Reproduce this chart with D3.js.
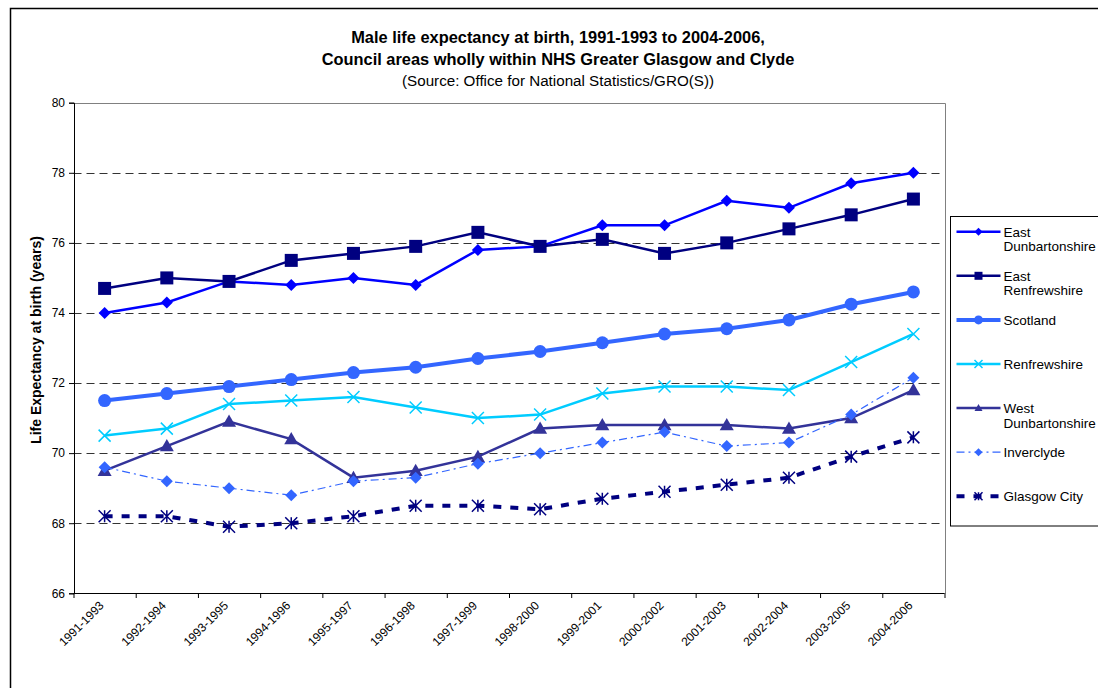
<!DOCTYPE html>
<html>
<head>
<meta charset="utf-8">
<script src="https://cdn.jsdelivr.net/npm/d3@7"></script>
<style>
	body { margin: 0; background: #fff; }
	svg { display: block; font-family: "Liberation Sans", Arial, sans-serif; }
</style>
</head>
<body>
<div id="chart"></div>
<script>
// Three-year periods on the x axis
var periods = ["1991-1993", "1992-1994", "1993-1995", "1994-1996", "1995-1997", "1996-1998", "1997-1999",
	"1998-2000", "1999-2001", "2000-2002", "2001-2003", "2002-2004", "2003-2005", "2004-2006"];

var yTicks = [66, 68, 70, 72, 74, 76, 78, 80];

// Life expectancy values
var eastDunbartonshire = [74.0, 74.3, 74.9, 74.8, 75.0, 74.8, 75.8, 75.9, 76.5, 76.5, 77.2, 77.0, 77.7, 78.0];
var eastRenfrewshire = [74.7, 75.0, 74.9, 75.5, 75.7, 75.9, 76.3, 75.9, 76.1, 75.7, 76.0, 76.4, 76.8, 77.25];
var scotland = [71.5, 71.7, 71.9, 72.1, 72.3, 72.45, 72.7, 72.9, 73.15, 73.4, 73.55, 73.8, 74.25, 74.6];
var renfrewshire = [70.5, 70.7, 71.4, 71.5, 71.6, 71.3, 71.0, 71.1, 71.7, 71.9, 71.9, 71.8, 72.6, 73.4];
var westDunbartonshire = [69.5, 70.2, 70.9, 70.4, 69.3, 69.5, 69.9, 70.7, 70.8, 70.8, 70.8, 70.7, 71.0, 71.8];
var inverclyde = [69.6, 69.2, 69.0, 68.8, 69.2, 69.3, 69.7, 70.0, 70.3, 70.6, 70.2, 70.3, 71.1, 72.15];
var glasgowCity = [68.2, 68.2, 67.9, 68.0, 68.2, 68.5, 68.5, 68.4, 68.7, 68.9, 69.1, 69.3, 69.9, 70.45];

var series = [
	{name: ["East", "Dunbartonshire"], values: eastDunbartonshire, color: "#0000ff", width: 2.5, dash: null, marker: "diamond", size: 6},
	{name: ["East", "Renfrewshire"], values: eastRenfrewshire, color: "#000080", width: 2.5, dash: null, marker: "square", size: 6.5},
	{name: ["Scotland"], values: scotland, color: "#3366ff", width: 4, dash: null, marker: "circle", size: 6.5},
	{name: ["Renfrewshire"], values: renfrewshire, color: "#00ccff", width: 2.5, dash: null, marker: "x", size: 6},
	{name: ["West", "Dunbartonshire"], values: westDunbartonshire, color: "#333399", width: 2.5, dash: null, marker: "triangle", size: 7},
	{name: ["Inverclyde"], values: inverclyde, color: "#3366ff", width: 1.2, dash: "8,4,2,4", marker: "diamond", size: 6},
	{name: ["Glasgow City"], values: glasgowCity, color: "#000080", width: 4, dash: "8,9", marker: "asterisk", size: 6}
];

var width = 1098, height = 688;
var margin = {top: 102.7, left: 73.5, right: 944.5, bottom: 593.3};

var svg = d3.select("#chart").append("svg")
	.attr("width", width)
	.attr("height", height);

// Outer chart frame (runs off the page on the right and bottom)
svg.append("rect")
	.attr("x", 10.5).attr("y", 8.5)
	.attr("width", 1200).attr("height", 800)
	.attr("fill", "none").attr("stroke", "#000").attr("stroke-width", 1.5);

// Titles
var titleX = 558;
svg.append("text").attr("x", titleX).attr("y", 43).attr("text-anchor", "middle")
	.style("font-size", "16.4px").style("font-weight", "bold")
	.text("Male life expectancy at birth, 1991-1993 to 2004-2006,");
svg.append("text").attr("x", titleX).attr("y", 65).attr("text-anchor", "middle")
	.style("font-size", "16.4px").style("font-weight", "bold")
	.text("Council areas wholly within NHS Greater Glasgow and Clyde");
svg.append("text").attr("x", titleX).attr("y", 86).attr("text-anchor", "middle")
	.style("font-size", "15.2px")
	.text("(Source: Office for National Statistics/GRO(S))");

// Scales
var x = d3.scaleBand()
	.domain(periods)
	.range([margin.left, margin.right])
	.padding(0);

// boundary scale for the ticks between categories
var xEdge = d3.scaleLinear()
	.domain([0, periods.length])
	.range([margin.left, margin.right]);

var y = d3.scaleLinear()
	.domain([66, 80])
	.range([margin.bottom, margin.top]);

var cx = function(i) { return x(periods[i]) + x.bandwidth() / 2; };

// Dashed gridlines
svg.append("g").selectAll("line")
	.data(yTicks.filter(function(d) { return d > 66 && d < 80; }))
	.enter().append("line")
	.attr("x1", margin.left).attr("x2", margin.right)
	.attr("y1", function(d) { return Math.round(y(d)) + 0.5; })
	.attr("y2", function(d) { return Math.round(y(d)) + 0.5; })
	.attr("stroke", "#333").attr("stroke-dasharray", "8,5");

// Plot area border (top and right)
svg.append("path")
	.attr("d", "M" + margin.left + "," + (Math.round(margin.top) + 0.5) + "H" + (Math.round(margin.right) + 0.5) + "V" + margin.bottom)
	.attr("fill", "none").attr("stroke", "#808080");

// Y axis
var yAxis = d3.axisLeft(y).tickValues(yTicks).tickSize(5).tickPadding(4);
var yG = svg.append("g")
	.attr("transform", "translate(" + Math.round(margin.left) + ",0)")
	.call(yAxis);
yG.selectAll("text").style("font-size", "12px").attr("fill", "#000");
yG.selectAll("line, path").attr("stroke", "#000");

// X axis, ticks sit between categories
var xAxis = d3.axisBottom(xEdge).tickValues(d3.range(periods.length + 1)).tickFormat("").tickSize(5);
var xG = svg.append("g")
	.attr("transform", "translate(0," + Math.round(margin.bottom) + ")")
	.call(xAxis);
xG.selectAll("line, path").attr("stroke", "#000");
xG.select(".domain").attr("d", "M" + margin.left + ",0.5H" + margin.right);

svg.append("g").selectAll("text")
	.data(periods)
	.enter().append("text")
	.attr("transform", function(d, i) { return "translate(" + (cx(i) - 3) + "," + (margin.bottom + 10) + ") rotate(-45)"; })
	.attr("text-anchor", "end")
	.attr("dy", "0.35em")
	.style("font-size", "12px")
	.text(function(d) { return d; });

// Y axis title
svg.append("text")
	.attr("transform", "translate(41,340) rotate(-90)")
	.attr("text-anchor", "middle")
	.style("font-size", "14px").style("font-weight", "bold")
	.text("Life Expectancy at birth (years)");

// Marker drawing
function drawMarker(sel, s, r) {
	if (s.marker === "circle") {
		sel.append("circle").attr("r", r).attr("fill", s.color);
	} else if (s.marker === "square") {
		sel.append("rect").attr("x", -r).attr("y", -r).attr("width", 2 * r).attr("height", 2 * r).attr("fill", s.color);
	} else if (s.marker === "diamond") {
		sel.append("path").attr("d", "M0," + (-r) + "L" + r + ",0L0," + r + "L" + (-r) + ",0Z").attr("fill", s.color);
	} else if (s.marker === "triangle") {
		sel.append("path").attr("d", "M0," + (-r) + "L" + r + "," + (r * 0.75) + "L" + (-r) + "," + (r * 0.75) + "Z").attr("fill", s.color);
	} else if (s.marker === "x") {
		sel.append("path").attr("d", "M" + (-r) + "," + (-r) + "L" + r + "," + r + "M" + r + "," + (-r) + "L" + (-r) + "," + r)
			.attr("stroke", s.color).attr("stroke-width", 1.5).attr("fill", "none");
	} else if (s.marker === "asterisk") {
		sel.append("path").attr("d", "M" + (-r) + "," + (-r) + "L" + r + "," + r + "M" + r + "," + (-r) + "L" + (-r) + "," + r + "M0," + (-r) + "V" + r)
			.attr("stroke", s.color).attr("stroke-width", 1.5).attr("fill", "none");
	}
}

var line = d3.line()
	.x(function(d, i) { return cx(i); })
	.y(function(d) { return y(d); });

var lines = svg.append("g");
series.forEach(function(s) {
	lines.append("path")
		.attr("d", line(s.values))
		.attr("fill", "none")
		.attr("stroke", s.color)
		.attr("stroke-width", s.width)
		.attr("stroke-dasharray", s.dash);
});

series.forEach(function(s) {
	svg.append("g").selectAll("g")
		.data(s.values)
		.enter().append("g")
		.attr("transform", function(d, i) { return "translate(" + cx(i) + "," + y(d) + ")"; })
		.each(function() { drawMarker(d3.select(this), s, s.size); });
});

// Legend
var legendX = 950.5, legendY = 216.5;
svg.append("rect")
	.attr("x", legendX).attr("y", legendY)
	.attr("width", 200).attr("height", 309.5)
	.attr("fill", "#fff").attr("stroke", "#000");

var legendItems = svg.append("g").selectAll("g")
	.data(series)
	.enter().append("g")
	.attr("transform", function(d, i) { return "translate(" + legendX + "," + (231.7 + i * 44.1) + ")"; });

legendItems.append("line")
	.attr("x1", 6).attr("x2", 50)
	.attr("stroke", function(d) { return d.color; })
	.attr("stroke-width", function(d) { return d.width; })
	.attr("stroke-dasharray", function(d) { return d.dash; });

legendItems.each(function(s) {
	var g = d3.select(this).append("g").attr("transform", "translate(28,0)");
	drawMarker(g, s, s.marker === "circle" ? 4.5 : 4);
});

legendItems.append("text")
	.attr("x", 53)
	.style("font-size", "13.5px")
	.selectAll("tspan")
	.data(function(d) { return d.name; })
	.enter().append("tspan")
	.attr("x", 53)
	.attr("y", function(d, i) { return 5 + i * 14.5; })
	.text(function(d) { return d; });
</script>
</body>
</html>
